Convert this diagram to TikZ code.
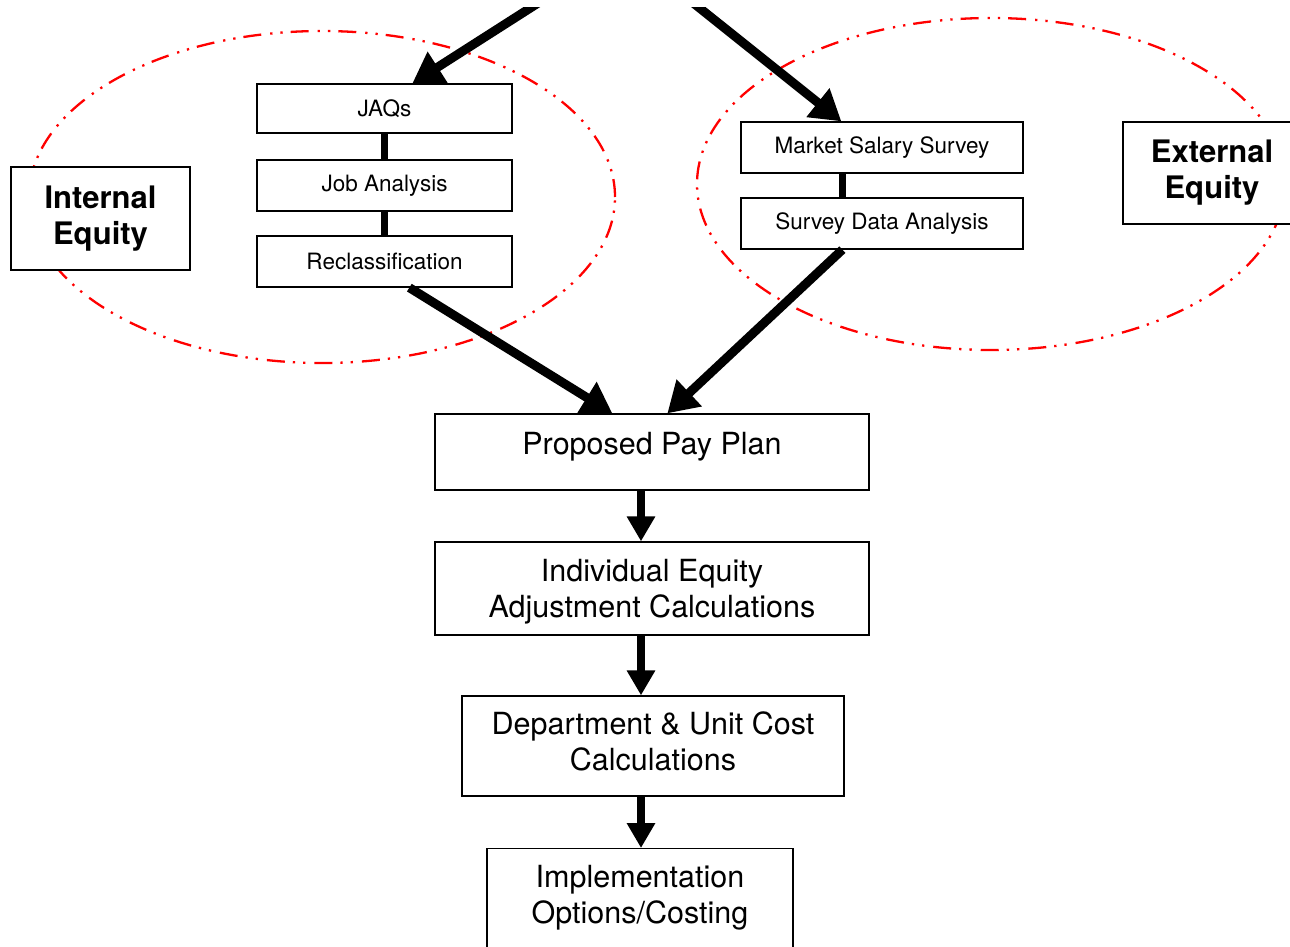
\documentclass[tikz,border=0pt]{standalone}
\usepackage{fontspec}
\setmainfont{TeX Gyre Heros}
\usetikzlibrary{arrows.meta,calc}
\tikzset{
  smallbox/.style={draw=black, line width=1.3pt, fill=white, minimum width=255pt, minimum height=50pt, inner sep=0pt, font=\fontsize{22.5}{26}\selectfont},
  labelbox/.style={draw=black, line width=1.3pt, fill=white, inner sep=0pt, align=center, font=\fontsize{31}{36}\selectfont\bfseries},
  bigbox/.style={draw=black, line width=1.3pt, fill=white, inner sep=0pt, align=center, font=\fontsize{30.5}{36}\selectfont},
  bigtext/.style={inner sep=0pt, align=center, font=\fontsize{30.5}{36}\selectfont},
  eqring/.style={draw=red, line width=2.3pt, dash pattern=on 18pt off 8pt on 2.3pt off 8pt on 2.3pt off 9pt},
  link/.style={draw=black, line width=7pt},
  flowarrow/.style={draw=black, line width=9pt, -{Triangle[length=30pt,width=35pt]}},
  steparrow/.style={draw=black, line width=8pt, -{Triangle[length=25pt,width=27pt]}}
}
\begin{document}
\begin{tikzpicture}[x=1pt,y=-1pt]
\useasboundingbox (0,0) rectangle (1290,947);
\clip (0,0) rectangle (1290,947);
\fill[white] (0,0) rectangle (1290,947);

% dash-dot-dot rings
\draw[eqring] (322,197) ellipse [x radius=293pt, y radius=166pt];
\draw[eqring] (991,184) ellipse [x radius=294pt, y radius=166pt];

% internal equity group
\node[smallbox, minimum height=49pt] (jaq) at (384.5,108.5) {JAQs};
\node[smallbox, minimum height=51pt] (ja) at (384.5,185.5) {Job Analysis};
\node[smallbox, minimum height=51pt] (rc) at (384.5,261.5) {Reclassification};
\node[labelbox, minimum width=179pt, minimum height=103pt] (ie) at (100.5,218.5) {Internal\\Equity};

% external equity group
\node[smallbox, minimum width=282pt, minimum height=51pt] (mss) at (882,147.5) {Market Salary Survey};
\node[smallbox, minimum width=282pt, minimum height=51pt] (sda) at (882,223.5) {Survey Data Analysis};
\node[labelbox, minimum width=178pt, minimum height=102pt] (ee) at (1212,173) {External\\Equity};

% links inside groups
\draw[link] (jaq.south) -- (ja.north);
\draw[link] (ja.south) -- (rc.north);
\draw[link] (mss.south -| 842,0) -- (sda.north -| 842,0);

% main flow
\node[bigbox, minimum width=434pt, text height=40pt, text depth=36pt] (ppp) at (652,452) {Proposed Pay Plan};
\node[bigbox, minimum width=434pt, minimum height=93pt] (ind) at (652,588.5) {};
\node[bigtext] (indtext) at (652,592) {Individual Equity\\Adjustment Calculations};
\node[bigbox, minimum width=382pt, minimum height=100pt] (dep) at (653,746) {};
\node[bigtext] (deptext) at (653,741) {Department \& Unit Cost\\Calculations};
\node[bigbox, minimum width=306pt, minimum height=140pt, anchor=north] (impl) at (640,848) {};
\node[bigtext] (impltext) at (640,898) {Implementation\\Options/Costing};

% incoming arrows from above (cut flat a little below the top edge)
\coordinate (srcL) at (546,-2);
\coordinate (srcR) at (687,-2);
\begin{scope}
  \clip (0,8) rectangle (1290,947);
  \draw[flowarrow] (srcL) -- ($(jaq.north west)+(156,0)$);
  \draw[flowarrow] (srcR) -- ($(mss.north west)+(101,0)$);
\end{scope}

% arrows into the pay plan
\draw[flowarrow] ($(rc.south west)+(153,0)$) -- ($(ppp.north west)+(178,0)$);
\draw[flowarrow] ($(sda.south west)+(102,0)$) -- ($(ppp.north west)+(233,0)$);

% vertical steps
\coordinate (axis) at (641,0);
\draw[steparrow] (ppp.south -| axis) -- (ind.north -| axis);
\draw[steparrow] (ind.south -| axis) -- (dep.north -| axis);
\draw[steparrow] (dep.south -| axis) -- (impl.north -| axis);
\end{tikzpicture}
\end{document}
